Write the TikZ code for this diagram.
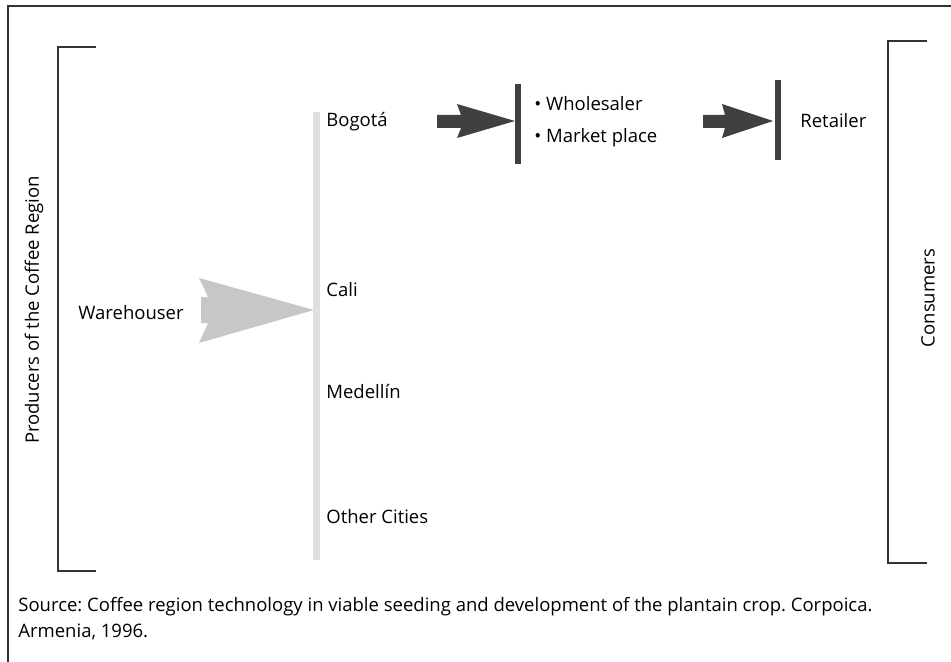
\documentclass[tikz,border=0pt]{standalone}
\usepackage{fontspec}
\setmainfont{Open Sans}
\usetikzlibrary{positioning}
\frenchspacing

\begin{document}
\begin{tikzpicture}[
  x=0.5pt,y=-0.5pt,
  label/.style={font=\fontsize{9.25}{11}\selectfont,inner sep=0pt,anchor=west},
  bracket/.style={draw=black!80,line width=0.8pt},
  lightbar/.style={fill=black!12,draw=none},
  darkbar/.style={fill=black!75,draw=none},
  lightarrow/.style={fill=black!22,draw=none},
  darkarrow/.style={fill=black!75,draw=none}
]
  \clip (0,0) rectangle (951,662);
  \useasboundingbox (0,0) rectangle (951,662);
  % frame
  \draw[black!80,line width=0.9pt] (8,6) rectangle (980,700);

  % brackets
  \draw[bracket] (96,47) -- (58,47) -- (58,571) -- (96,571);
  \draw[bracket] (927,41) -- (888,41) -- (888,563) -- (927,563);
  \node[label,rotate=90,anchor=center] (producers) at (34,310) {Producers of the Coffee Region};
  \node[label,rotate=90,anchor=center] (consumers) at (928,298) {Consumers};

  % warehouser to cities
  \node[label] (warehouser) at (78,313) {Warehouser};
  \fill[lightarrow] (201,297) -- (208,297) -- (199,278) -- (314,310)
    -- (199,343) -- (208,323) -- (201,323) -- cycle;
  \fill[lightbar] (313,112) rectangle (320,560);

  \node[label] (bogota) at (326,122) {Bogotá};
  \node[label] (cali) at (326,290) {Cali};
  \node[label] (medellin) at (326,392) {Medellín};
  \node[label] (other) at (326,517) {Other Cities};

  % Bogota to wholesaler
  \fill[darkarrow] (437,115) -- (461,115) -- (457,104) -- (515,121)
    -- (457,138) -- (461,128) -- (437,128) -- cycle;
  \fill[darkbar] (515,84) rectangle (521,164);
  \node[label] (wholesaler) at (534,104) {• Wholesaler};
  \node[label] (market) at (534,138) {• Market place};

  % wholesaler to retailer
  \fill[darkarrow] (703,115) -- (725,115) -- (722,104) -- (773,121)
    -- (722,138) -- (725,128) -- (703,128) -- cycle;
  \fill[darkbar] (775,80) rectangle (781,160);
  \node[label] (retailer) at (800,121) {Retailer};

  % source
  \node[label] (source) at (18,607) {Source: Coffee region technology in viable seeding and development of the plantain crop. Corpoica.};
  \node[label] (armenia) at (18,632) {Armenia, 1996.};
\end{tikzpicture}
\end{document}
